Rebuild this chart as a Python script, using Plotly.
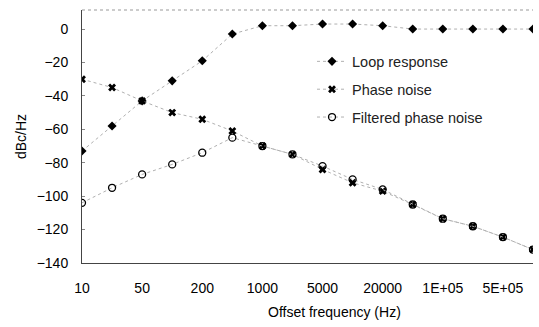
import plotly.graph_objects as go

freq = ["10", "20", "50", "100", "200", "500", "1000", "2000", "5000", "10000",
        "20000", "50000", "1E+05", "2E+05", "5E+05", "1E+06"]
loop_response = [-73, -58, -43, -31, -19, -3, 2, 2, 3, 3, 2, 0, 0, 0, 0, 0]
phase_noise = [-30, -35, -43, -50, -54, -61, -70, -75, -84, -92, -97, -105, -113.5, -118, -124.5, -132]
filtered_noise = [-104, -95, -87, -81, -74, -65, -70, -75, -82, -90, -96, -105, -113.5, -118, -124.5, -132]
tick_labels = ["10", "50", "200", "1000", "5000", "20000", "1E+05", "5E+05"]
y_ticks = [0, -20, -40, -60, -80, -100, -120, -140]

FONT = "Liberation Sans, Arial, sans-serif"
line_style = dict(color="#b0b0b0", width=1, dash="dot")

fig = go.Figure()
fig.add_trace(go.Scatter(
    x=freq, y=loop_response, mode="lines+markers", name="Loop response",
    legendgroup="a", line=line_style,
    marker=dict(symbol="diamond", size=7, color="black")))
fig.add_trace(go.Scatter(
    x=freq, y=phase_noise, mode="lines+markers", name="Phase noise",
    legendgroup="b", line=line_style,
    marker=dict(symbol="x", size=7, color="black")))
fig.add_trace(go.Scatter(
    x=freq, y=filtered_noise, mode="lines+markers", name="Filtered phase noise",
    legendgroup="c", line=line_style,
    marker=dict(symbol="circle-open", size=7, color="black", line=dict(width=1.3))))

fig.update_layout(
    width=539, height=327,
    margin=dict(l=82, r=6, t=10, b=64),
    paper_bgcolor="white", plot_bgcolor="white",
    font=dict(family=FONT, size=14, color="black"),
    showlegend=True,
    legend=dict(x=0.51, y=0.86, xanchor="left", yanchor="top",
                bgcolor="rgba(0,0,0,0)", font=dict(size=14.5, color="#222"),
                tracegroupgap=6, traceorder="grouped", itemwidth=30),
    xaxis=dict(type="category", categoryorder="array", categoryarray=freq,
               range=[0, 15], tickvals=tick_labels, ticktext=tick_labels,
               showgrid=False, zeroline=False, showline=True, linecolor="#444",
               linewidth=1, ticks="", ticklabelstandoff=12,
               tickfont=dict(size=14)),
    yaxis=dict(range=[-140, 11.4], tickvals=y_ticks, showgrid=False,
               zeroline=False, showline=True, linecolor="#444", linewidth=1,
               ticks="inside", ticklen=3, tickcolor="#888",
               ticklabelstandoff=10, tickfont=dict(size=14),
               title=dict(text="dBc/Hz", font=dict(size=14), standoff=6)),
    shapes=[dict(type="line", xref="paper", yref="paper", x0=0, x1=1, y0=1, y1=1,
                 line=dict(color="#999", width=1, dash="dot"))],
    annotations=[dict(text="Offset frequency (Hz)", xref="paper", yref="paper",
                      x=0.56, y=-0.155, xanchor="center", yanchor="top",
                      showarrow=False, font=dict(size=14))],
)

fig.write_html("out.html")
